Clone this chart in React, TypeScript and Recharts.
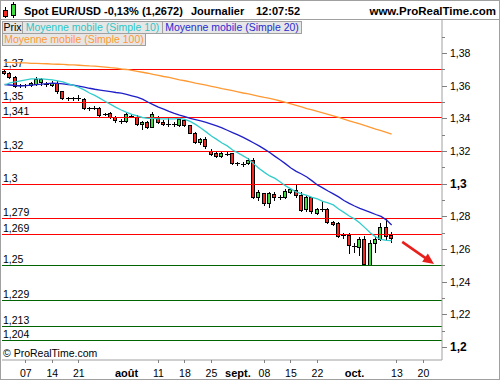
import React from 'react';
import { ComposedChart, Bar, Line, XAxis, YAxis, ReferenceLine } from 'recharts';

const FONT = '"Liberation Sans", Arial, sans-serif';

// Trading days (2014), MM-DD
const DATES = [
  '07-01','07-02','07-03','07-04','07-07','07-08','07-09','07-10','07-11','07-14','07-15','07-16','07-17','07-18','07-21','07-22','07-23','07-24','07-25','07-28','07-29','07-30','07-31',
  '08-01','08-04','08-05','08-06','08-07','08-08','08-11','08-12','08-13','08-14','08-15','08-18','08-19','08-20','08-21','08-22','08-25','08-26','08-27','08-28','08-29',
  '09-01','09-02','09-03','09-04','09-05','09-08','09-09','09-10','09-11','09-12','09-15','09-16','09-17','09-18','09-19','09-22','09-23','09-24','09-25','09-26','09-29','09-30',
  '10-01','10-02','10-03','10-06','10-07','10-08','10-09','10-10','10-13','10-14','10-15','10-16','10-17','10-20','10-21','10-22','10-23',
];

const OPEN = [
  1.3690,1.3677,1.3655,1.3602,1.3601,1.3603,1.3613,1.3622,1.3614,1.3603,
  1.3614,1.3565,1.3523,1.3521,1.3523,1.3517,1.3462,1.3460,1.3465,1.3425,
  1.3431,1.3411,1.3388,1.3384,1.3418,1.3410,1.3364,1.3380,1.3349,1.3404,
  1.3380,1.3364,1.3362,1.3359,1.3388,1.3359,1.3312,1.3253,1.3271,1.3202,
  1.3186,1.3171,1.3182,1.3185,1.3125,1.3123,1.3124,1.3145,1.2920,1.2941,
  1.2884,1.2937,1.2918,1.2916,1.2950,1.2961,1.2930,1.2843,1.2916,1.2823,
  1.2843,1.2843,1.2767,1.2757,1.2683,1.2686,1.2622,1.2614,1.2659,1.2502,
  1.2635,1.2659,1.2733,1.2683,
];
const HIGH = [
  1.3698,1.3683,1.3662,1.3610,1.3612,1.3625,1.3650,1.3645,1.3620,1.3628,
  1.3630,1.3570,1.3532,1.3530,1.3545,1.3522,1.3470,1.3475,1.3470,1.3435,
  1.3440,1.3415,1.3395,1.3441,1.3425,1.3420,1.3385,1.3385,1.3437,1.3412,
  1.3388,1.3400,1.3375,1.3408,1.3395,1.3362,1.3315,1.3280,1.3284,1.3210,
  1.3192,1.3198,1.3198,1.3190,1.3135,1.3130,1.3155,1.3160,1.2958,1.2945,
  1.2948,1.2951,1.2928,1.2965,1.2972,1.2992,1.2950,1.2928,1.2920,1.2850,
  1.2896,1.2848,1.2772,1.2762,1.2700,1.2696,1.2637,1.2675,1.2677,1.2655,
  1.2672,1.2757,1.2788,1.2706,
];
const LOW = [
  1.3672,1.3648,1.3594,1.3590,1.3593,1.3598,1.3605,1.3603,1.3600,1.3598,
  1.3558,1.3518,1.3512,1.3515,1.3512,1.3458,1.3452,1.3455,1.3415,1.3418,
  1.3402,1.3380,1.3372,1.3380,1.3405,1.3358,1.3332,1.3338,1.3345,1.3372,
  1.3358,1.3355,1.3350,1.3350,1.3352,1.3308,1.3248,1.3240,1.3217,1.3175,
  1.3165,1.3166,1.3175,1.3118,1.3115,1.3110,1.3118,1.2915,1.2900,1.2870,
  1.2858,1.2900,1.2905,1.2910,1.2940,1.2920,1.2832,1.2835,1.2822,1.2815,
  1.2835,1.2760,1.2745,1.2672,1.2670,1.2574,1.2584,1.2565,1.2500,1.2500,
  1.2584,1.2655,1.2655,1.2645,
];
const CLOSE = [
  1.3677,1.3654,1.3600,1.3601,1.3603,1.3618,1.3640,1.3638,1.3611,1.3618,
  1.3565,1.3523,1.3521,1.3523,1.3520,1.3462,1.3460,1.3463,1.3421,1.3427,
  1.3407,1.3390,1.3385,1.3425,1.3415,1.3364,1.3376,1.3349,1.3425,1.3380,
  1.3364,1.3362,1.3363,1.3395,1.3359,1.3312,1.3253,1.3271,1.3231,1.3180,
  1.3171,1.3190,1.3180,1.3124,1.3123,1.3122,1.3145,1.2920,1.2951,1.2880,
  1.2941,1.2916,1.2915,1.2957,1.2965,1.2928,1.2839,1.2920,1.2835,1.2843,
  1.2842,1.2767,1.2753,1.2680,1.2685,1.2625,1.2620,1.2659,1.2508,1.2635,
  1.2659,1.2733,1.2680,1.2667,
];

const SMA10 = [
  1.3604,1.3617,1.3623,1.3629,1.3635,1.3641,1.3641,1.3641,1.3638,1.3635,
  1.3629,1.3623,1.3611,1.3601,1.3589,1.3574,1.3555,1.3540,1.3522,1.3503,
  1.3485,1.3467,1.3451,1.3436,1.3424,1.3415,1.3405,1.3399,1.3399,1.3396,
  1.3396,1.3396,1.3396,1.3399,1.3393,1.3381,1.3363,1.3341,1.3317,1.3292,
  1.3271,1.3249,1.3231,1.3206,1.3188,1.3170,1.3151,1.3121,1.3093,1.3069,
  1.3047,1.3032,1.3010,1.2986,1.2968,1.2949,1.2937,1.2928,1.2916,1.2906,
  1.2891,1.2882,1.2870,1.2845,1.2824,1.2802,1.2784,1.2759,1.2729,1.2698,
  1.2674,1.2658,1.2652,1.2651,
];
const SMA20 = [
  1.3607,1.3604,1.3601,1.3598,1.3600,1.3603,1.3606,1.3609,1.3613,1.3615,
  1.3614,1.3611,1.3607,1.3603,1.3597,1.3591,1.3584,1.3578,1.3573,1.3568,
  1.3563,1.3558,1.3554,1.3547,1.3538,1.3529,1.3517,1.3500,1.3484,1.3468,
  1.3456,1.3442,1.3430,1.3419,1.3410,1.3399,1.3392,1.3384,1.3375,1.3364,
  1.3353,1.3341,1.3327,1.3312,1.3298,1.3283,1.3266,1.3249,1.3231,1.3211,
  1.3191,1.3167,1.3145,1.3121,1.3096,1.3075,1.3059,1.3041,1.3017,1.2992,
  1.2974,1.2955,1.2937,1.2919,1.2897,1.2879,1.2863,1.2848,1.2836,1.2824,
  1.2811,1.2799,1.2778,1.2747,
];
const SMA100 = [
  1.3743,1.3742,1.3741,1.3740,1.3739,1.3737,1.3736,1.3735,1.3734,1.3732,
  1.3731,1.3730,1.3728,1.3727,1.3725,1.3723,1.3721,1.3720,1.3717,1.3714,
  1.3710,1.3707,1.3702,1.3699,1.3694,1.3688,1.3682,1.3676,1.3669,1.3663,
  1.3656,1.3650,1.3643,1.3636,1.3630,1.3623,1.3615,1.3609,1.3603,1.3596,
  1.3589,1.3582,1.3576,1.3569,1.3562,1.3555,1.3549,1.3542,1.3535,1.3528,
  1.3522,1.3515,1.3506,1.3497,1.3488,1.3479,1.3470,1.3460,1.3451,1.3442,
  1.3433,1.3424,1.3415,1.3405,1.3395,1.3385,1.3375,1.3366,1.3355,1.3345,
  1.3334,1.3324,1.3314,1.3303,
];

const X_TICKS: [string, string, boolean][] = [
  ['07-07', '07', false], ['07-14', '14', false], ['07-21', '21', false], ['08-01', 'août', true],
  ['08-11', '11', false], ['08-18', '18', false], ['08-25', '25', false], ['09-01', 'sept.', true],
  ['09-08', '08', false], ['09-15', '15', false], ['09-22', '22', false], ['10-01', 'oct.', true],
  ['10-13', '13', false], ['10-20', '20', false],
];
const Y_TICKS = [1.2, 1.21, 1.22, 1.23, 1.24, 1.25, 1.26, 1.27, 1.28, 1.29, 1.3, 1.31, 1.32, 1.33, 1.34, 1.35, 1.36, 1.37, 1.38, 1.39];
const RED_LEVELS = [1.37, 1.35, 1.341, 1.32, 1.3, 1.279, 1.269];
const GREEN_LEVELS = [1.25, 1.229, 1.213, 1.204];
const ARROW_FROM: [string, number] = ['10-14', 1.2643];
const ARROW_TO: [string, number] = ['10-22', 1.2508];

const LEGEND = [
  { label: 'Prix', color: '#000000' },
  { label: 'Moyenne mobile (Simple 10)', color: '#2cc6c6' },
  { label: 'Moyenne mobile (Simple 20)', color: '#2a2ad0' },
  { label: 'Moyenne mobile (Simple 100)', color: '#ff9933' },
];

const RED = '#f22a22';
const GREEN = '#3fdc3f';

const data = DATES.map((d, i) => {
  const has = i < OPEN.length;
  return {
    d,
    o: has ? OPEN[i] : null,
    h: has ? HIGH[i] : null,
    l: has ? LOW[i] : null,
    c: has ? CLOSE[i] : null,
    range: has ? [LOW[i], HIGH[i]] : null,
    s10: i < SMA10.length ? SMA10[i] : null,
    s20: i < SMA20.length ? SMA20[i] : null,
    s100: i < SMA100.length ? SMA100[i] : null,
  };
});

const fmt = (v: number) => String(parseFloat(v.toFixed(3))).replace('.', ',');

function Candle(props: any) {
  const { x, y, width, height, payload } = props;
  if (!payload || payload.o == null || !isFinite(y) || !isFinite(height)) return <g />;
  const { o, h, l, c } = payload;
  const top = Math.min(y, y + height);
  const bot = Math.max(y, y + height);
  const toY = (v: number) => top + ((h - v) / (h - l)) * (bot - top);
  const px = Math.floor(x + width / 2);
  const wx = px + 0.5;
  const yh = Math.round(toY(h));
  const yl = Math.round(toY(l));
  const els: any[] = [
    <line key="w" x1={wx} x2={wx} y1={yh} y2={yl + 1} stroke="#000" strokeWidth={1} />,
  ];
  if (Math.abs(o - c) < 0.00035) {
    const yo = Math.round(toY((o + c) / 2)) + 0.5;
    els.push(<line key="d" x1={px - 2} x2={px + 3} y1={yo} y2={yo} stroke="#000" strokeWidth={1} />);
  } else {
    const y1 = Math.round(toY(Math.max(o, c)));
    const y2 = Math.round(toY(Math.min(o, c)));
    els.push(
      <rect key="b" x={px - 1.5} y={y1 + 0.5} width={3} height={Math.max(1, y2 - y1)}
        fill={c > o ? GREEN : RED} stroke="#000" strokeWidth={1} />
    );
  }
  return <g>{els}</g>;
}

const X_MAP: Record<string, { label: string; bold: boolean }> = {};
X_TICKS.forEach(([d, label, bold]) => { X_MAP[d] = { label, bold }; });

function XTick(props: any) {
  const { x, y, payload } = props;
  const t = X_MAP[payload?.value];
  if (!t) return <g />;
  const lx = Math.floor(x) + 0.5;
  return (
    <g>
      {!t.bold && <line x1={lx} x2={lx} y1={y} y2={y + 3} stroke="#808080" />}
      <text x={x} y={y + 16.5} textAnchor="middle" fontFamily={FONT} fontSize={t.bold ? 11 : 10.5}
        fontWeight={t.bold ? 'bold' : 'normal'} fill="#000">{t.label}</text>
    </g>
  );
}

function YTick(props: any) {
  const { x, y, payload } = props;
  const v = payload.value as number;
  const hund = Math.round(v * 100);
  const major = hund % 2 === 0;
  const bold = hund % 10 === 0;
  const yy = Math.round(y) + 0.5;
  return (
    <g>
      <line x1={x} x2={x + (major ? 5 : 3)} y1={yy} y2={yy} stroke="#808080" />
      {major && (
        <text x={x + 8} y={y + (bold ? 4.5 : 4)} fontFamily={FONT} fontSize={bold ? 12 : 10.5}
          fontWeight={bold ? 'bold' : 'normal'} fill="#000">{fmt(v)}</text>
      )}
    </g>
  );
}

const levelLabel = (v: number) => (p: any) => {
  const vb = p.viewBox || {};
  return (
    <text x={(vb.x ?? 0) + 1} y={Math.round(vb.y ?? 0) - 2} fontFamily={FONT} fontSize={10.5} fill="#000">{fmt(v)}</text>
  );
};

const crispLine = (color: string) => (p: any) => {
  const yy = Math.round(p.y1) + 0.5;
  return <line x1={p.x1} x2={p.x2} y1={yy} y2={yy} stroke={color} strokeWidth={1} />;
};

function ArrowShape(p: any) {
  const { x1, y1, x2, y2 } = p;
  if (![x1, y1, x2, y2].every((n) => isFinite(n))) return <g />;
  const ang = Math.atan2(y2 - y1, x2 - x1);
  const len = 11;
  const hw = 5;
  const bx = x2 - len * Math.cos(ang);
  const by = y2 - len * Math.sin(ang);
  const pts = [
    [x2, y2],
    [bx + hw * Math.sin(ang), by - hw * Math.cos(ang)],
    [bx - hw * Math.sin(ang), by + hw * Math.cos(ang)],
  ].map((q) => q.join(',')).join(' ');
  return (
    <g>
      <line x1={x1} y1={y1} x2={bx + 2 * Math.cos(ang)} y2={by + 2 * Math.sin(ang)} stroke="#e8201c" strokeWidth={2.6} />
      <polygon points={pts} fill="#e8201c" />
    </g>
  );
}

function Overlay() {
  const boxes = [
    { x: 2, y: 21, w: 21, item: LEGEND[0] },
    { x: 22, y: 21, w: 141, item: LEGEND[1] },
    { x: 162, y: 21, w: 140, item: LEGEND[2] },
    { x: 2, y: 33, w: 144, item: LEGEND[3] },
  ];
  return (
    <svg width={500} height={380} style={{ position: 'absolute', left: 0, top: 0, pointerEvents: 'none' }}>
      <rect x={0} y={0} width={500} height={19.5} fill="#ffffff" />
      <line x1={0} x2={500} y1={19.5} y2={19.5} stroke="#a0a0a0" />
      <rect x={0.5} y={0.5} width={499} height={379} fill="none" stroke="#a0a0a0" />
      {/* icon */}
      <line x1={5.5} x2={5.5} y1={7} y2={18} stroke="#000" />
      <rect x={3.5} y={10.5} width={4} height={6} fill={RED} stroke="#000" />
      <line x1={13.5} x2={13.5} y1={2} y2={18} stroke="#000" />
      <rect x={11.5} y={4.5} width={4} height={11} fill={GREEN} stroke="#000" />
      <g fontFamily={FONT} fontSize={11} fontWeight="bold" fill="#000">
        <text x={24} y={15}>Spot EUR/USD</text>
        <text x={104} y={15}>-0,13% (1,2672)</text>
        <text x={191} y={15}>Journalier</text>
        <text x={256} y={15}>12:07:52</text>
        <text x={496} y={15} textAnchor="end" fontSize={11.5}>www.ProRealTime.com</text>
      </g>
      {boxes.map((b, i) => (
        <g key={i}>
          <rect x={b.x + 0.5} y={b.y + 0.5} width={b.w - 1} height={12} fill="#e6e6e6" stroke="#a0a0a0" />
          <text x={b.x + b.w / 2} y={b.y + 10} textAnchor="middle" fontFamily={FONT} fontSize={10.5} fill={b.item.color}>
            {b.item.label}
          </text>
        </g>
      ))}
      <text x={3} y={357} fontFamily={FONT} fontSize={10.5} fill="#000">© ProRealTime.com</text>
    </svg>
  );
}

export default function App() {
  return (
    <div style={{ position: 'absolute', left: 0, top: 0, width: 500, height: 380, background: '#fff', fontFamily: FONT }}>
      <ComposedChart width={500} height={380} data={data} margin={{ top: 20, right: 0, bottom: 0, left: 2 }}
        barCategoryGap={0}>
        <XAxis dataKey="d" type="category" height={20} ticks={X_TICKS.map((t) => t[0])} interval={0}
          tick={<XTick />} tickLine={false} tickSize={0} tickMargin={0} axisLine={{ stroke: '#a0a0a0' }} />
        <YAxis orientation="right" type="number" width={58} domain={[1.192, 1.4002]} allowDataOverflow
          ticks={Y_TICKS} interval={0} tick={<YTick />} tickLine={false} tickSize={0} tickMargin={0}
          axisLine={{ stroke: '#a0a0a0' }} />
        {RED_LEVELS.map((v) => (
          <ReferenceLine key={'r' + v} y={v} stroke="#ff0000" shape={crispLine('#ff0000')} label={levelLabel(v)} />
        ))}
        {GREEN_LEVELS.map((v) => (
          <ReferenceLine key={'g' + v} y={v} stroke="#006400" shape={crispLine('#006400')} label={levelLabel(v)} />
        ))}
        <Bar dataKey="range" shape={Candle} isAnimationActive={false} />
        <Line dataKey="s100" type="linear" stroke="#ff9933" strokeWidth={1.3} dot={false} isAnimationActive={false} />
        <Line dataKey="s20" type="linear" stroke="#1f1fc8" strokeWidth={1.3} dot={false} isAnimationActive={false} />
        <Line dataKey="s10" type="linear" stroke="#33cccc" strokeWidth={1.3} dot={false} isAnimationActive={false} />
        <ReferenceLine segment={[{ x: ARROW_FROM[0], y: ARROW_FROM[1] }, { x: ARROW_TO[0], y: ARROW_TO[1] }]}
          stroke="#e8201c" shape={ArrowShape} ifOverflow="visible" />
      </ComposedChart>
      <Overlay />
    </div>
  );
}
